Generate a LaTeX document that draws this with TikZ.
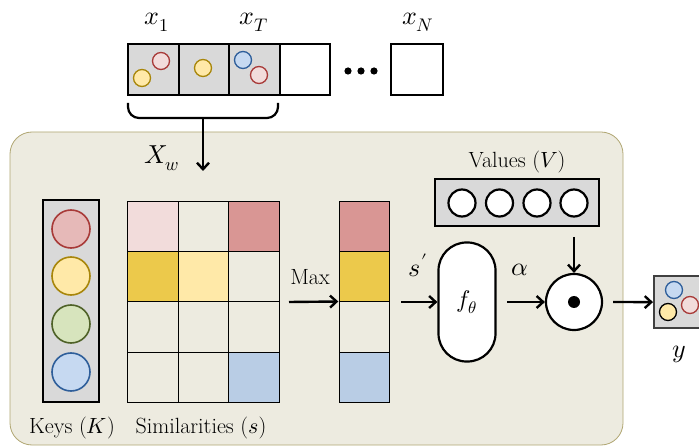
\documentclass[tikz,border=0pt]{standalone}
\usepackage{unicode-math}
\usetikzlibrary{arrows.meta}
\definecolor{panel}{HTML}{EDEBE0}
\definecolor{panelb}{HTML}{B0A672}
\definecolor{greyf}{HTML}{D9D9D9}
\definecolor{pinkf}{HTML}{E6B9B8}
\definecolor{pinkl}{HTML}{F2DCDB}
\definecolor{pinkd}{HTML}{D99694}
\definecolor{redb}{HTML}{A83A38}
\definecolor{yelf}{HTML}{FFE9A8}
\definecolor{yeld}{HTML}{ECC94B}
\definecolor{yelb}{HTML}{A8860A}
\definecolor{grnf}{HTML}{D7E4BD}
\definecolor{grnb}{HTML}{4F6228}
\definecolor{bluef}{HTML}{C6D9F1}
\definecolor{blued}{HTML}{B9CDE5}
\definecolor{blueb}{HTML}{2E5E9A}
\tikzset{
  arr/.style={-{Straight Barb[length=6.5pt,width=12pt]}, line width=2.4pt},
  cell/.style={draw=black, line width=0.8pt, minimum width=50.5pt, minimum height=50.2pt, inner sep=0pt, anchor=north west},
  topcell/.style={draw=black, line width=2.2pt, minimum width=50.5pt, minimum height=51pt, inner sep=0pt, anchor=north west},
  dot/.style={circle, line width=1.3pt, minimum size=17pt, inner sep=0pt},
  keydot/.style={circle, line width=1.6pt, minimum size=38pt, inner sep=0pt},
  valdot/.style={circle, draw=black, fill=white, line width=2.2pt, minimum size=27pt, inner sep=0pt},
  lab/.style={font=\fontsize{22}{24}\selectfont, inner sep=0pt, anchor=base},
  mlab/.style={font=\fontsize{26}{28}\selectfont, inner sep=0pt, anchor=base}
}
\begin{document}
\begin{tikzpicture}[x=1pt,y=-1pt]
\useasboundingbox (0,0) rectangle (699,446);
% panel
\draw[fill=panel, draw=panelb, line width=0.8pt, rounded corners=22pt] (10,132) rectangle (623,445);
% top sequence
\node[topcell, fill=greyf] (c1) at (127,43) {};
\node[topcell, fill=greyf] (c2) at (177.5,43) {};
\node[topcell, fill=greyf] (c3) at (228,43) {};
\node[topcell, fill=white] (c4) at (278.5,43) {};
\node[topcell, fill=white, minimum width=52pt] (cN) at (389.5,43) {};
\foreach \xx in {348,361,374} \fill (\xx,71) circle (3.6pt);
\node[mlab] (x1) at (157,25) {$x_1$};
\node[mlab] (xT) at (254,25) {$x_T$};
\node[mlab] (xN) at (418,25) {$x_N$};
\node[dot, draw=redb, fill=pinkl] (d1) at (161,61) {};
\node[dot, draw=yelb, fill=yelf] (d2) at (142,78) {};
\node[dot, draw=yelb, fill=yelf] (d3) at (203,68) {};
\node[dot, draw=blueb, fill=bluef] (d4) at (243,60) {};
\node[dot, draw=redb, fill=pinkl] (d5) at (259,75) {};
% brace
\coordinate (bl) at (128,103);
\coordinate (br) at (278,103);
\coordinate (bm) at (203,118);
\coordinate (bt) at (203,171);
\draw[line width=2.2pt, rounded corners=11pt] (bl) -- (128,118) -- (278,118) -- (br);
\draw[arr] (bm) -- (bt);
\node[mlab] (xw) at (162,164) {$X_w$};
% keys
\node[draw=black, fill=greyf, line width=2.2pt, minimum width=56pt, minimum height=202pt, inner sep=0pt] (keys) at (71,301) {};
\node[keydot, draw=redb, fill=pinkf] (k1) at (71,229) {};
\node[keydot, draw=yelb, fill=yelf] (k2) at (71,276) {};
\node[keydot, draw=grnb, fill=grnf] (k3) at (71,324) {};
\node[keydot, draw=blueb, fill=bluef] (k4) at (71,372) {};
\node[lab] (klab) at (72,433) {Keys ($K$)};
% similarity grid
\foreach \r/\c/\col in {0/0/pinkl,0/1/panel,0/2/pinkd,1/0/yeld,1/1/yelf,1/2/panel,2/0/panel,2/1/panel,2/2/panel,3/0/panel,3/1/panel,3/2/blued}{
  \node[cell, fill=\col] (s\r\c) at ({127+50.5*\c},{201+50.2*\r}) {};
}
\node[lab] (slab) at (201,433) {Similarities ($s$)};
% max
\coordinate (ma) at (289,302);
\node[lab] (maxl) at (310,285) {Max};
% column
\foreach \r/\col in {0/pinkd,1/yeld,2/panel,3/blued}{
  \node[cell, fill=\col] (m\r) at (338.5,{201+50.2*\r}) {};
}
\node[inner sep=0pt, minimum width=50.5pt, minimum height=201pt] (mcol) at (363.75,301.5) {};
\draw[arr] (ma) -- (mcol.west);
% f theta
\node[draw=black, fill=white, line width=2.2pt, rounded corners=28pt, minimum width=57pt, minimum height=119pt, inner sep=0pt] (f) at (467,302) {\fontsize{24}{26}\selectfont$f_\theta$};
\coordinate (sa) at (401,302);
\draw[arr] (sa) -- (f.west);
\node[mlab] (sp) at (418,277) {$s'$};
% odot
\node[circle, draw=black, fill=white, line width=2.2pt, minimum size=56pt, inner sep=0pt] (od) at (574,302) {};
\fill (od.center) circle (6pt);
\coordinate (aa) at (507,302);
\draw[arr] (aa) -- (od.west);
\node[mlab] (al) at (520,276) {$\alpha$};
% values
\node[draw=black, fill=greyf, line width=2.2pt, minimum width=164pt, minimum height=47pt, inner sep=0pt] (vals) at (517,202.5) {};
\node[valdot] (v1) at (462,203) {};
\node[valdot] (v2) at (499.5,203) {};
\node[valdot] (v3) at (537,203) {};
\node[valdot] (v4) at (574,203) {};
\node[lab] (vl) at (517,168) {Values ($V$)};
\coordinate (va) at (574,237);
\draw[arr] (va) -- (od.north);
% output
\node[draw=black!75, fill=greyf, line width=2.2pt, minimum width=60pt, minimum height=52pt, inner sep=0pt, anchor=north west] (out) at (653,275) {};
\node[dot, draw=blueb, fill=bluef] (o1) at (674,290) {};
\node[dot, draw=redb, fill=pinkl] (o2) at (690,305) {};
\node[dot, draw=black, fill=yelf] (o3) at (668,312) {};
\coordinate (oa) at (613,302);
\draw[arr] (oa) -- (out.west);
\node[mlab] (yl) at (679,357) {$y$};
\end{tikzpicture}
\end{document}
